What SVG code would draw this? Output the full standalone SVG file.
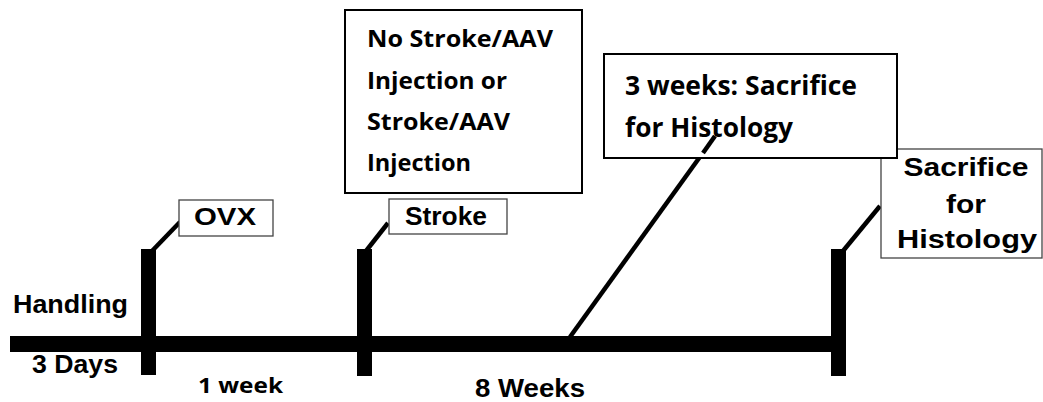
<svg xmlns="http://www.w3.org/2000/svg" width="1043" height="402" viewBox="0 0 1043 402">
<style>
.ar{font-family:"Liberation Sans",Arial,sans-serif;font-weight:700;fill:#000}
.ca{font-family:"Open Sans","Liberation Sans",sans-serif;font-weight:700;fill:#000}
.thin{fill:#fff;stroke:#444;stroke-width:1.3}
.thick{fill:#fff;stroke:#000;stroke-width:2}
.bar{fill:#000}
.lead{stroke:#000;stroke-width:4.5;stroke-linecap:butt;fill:none}
</style>
<rect width="1043" height="402" fill="#fff"/>
<g id="timeline">
<rect class="bar" x="10" y="336" width="836" height="16"/>
<rect class="bar" x="141" y="249" width="15" height="126"/>
<rect class="bar" x="357" y="249" width="15" height="127"/>
<rect class="bar" x="831" y="249" width="15" height="127"/>
</g>
<g id="connectors">
<line class="lead" x1="152" y1="251" x2="180" y2="222"/>
<line class="lead" x1="366" y1="251" x2="388" y2="223"/>
<line class="lead" x1="843" y1="251" x2="880" y2="206"/>
<line class="lead" x1="570" y1="337" x2="715" y2="136"/>
</g>
<g id="labels">
<text class="ar" x="13" y="313" font-size="26" textLength="115" lengthAdjust="spacingAndGlyphs">Handling</text>
<text class="ar" x="32" y="373" font-size="26" textLength="86" lengthAdjust="spacingAndGlyphs">3 Days</text>
<text class="ca" x="198" y="393" font-size="22" textLength="85" lengthAdjust="spacingAndGlyphs">1 week</text>
<text class="ar" x="475" y="397" font-size="26" textLength="110" lengthAdjust="spacingAndGlyphs">8 Weeks</text>
</g>
<g id="ovx">
<rect class="thin" x="179" y="200" width="94" height="36"/>
<text class="ar" x="194" y="225" font-size="24" textLength="62" lengthAdjust="spacingAndGlyphs">OVX</text>
</g>
<g id="stroke">
<rect class="thin" x="389" y="199" width="118" height="35"/>
<text class="ar" x="405" y="225" font-size="25" textLength="82" lengthAdjust="spacingAndGlyphs">Stroke</text>
</g>
<g id="group-box">
<rect class="thick" x="345" y="10" width="237" height="183"/>
<text class="ca" x="367" y="47" font-size="24" textLength="186" lengthAdjust="spacingAndGlyphs">No Stroke/AAV</text>
<text class="ca" x="367" y="89" font-size="24" textLength="140" lengthAdjust="spacingAndGlyphs">Injection or</text>
<text class="ca" x="367" y="130" font-size="24" textLength="143" lengthAdjust="spacingAndGlyphs">Stroke/AAV</text>
<text class="ca" x="367" y="171" font-size="24" textLength="104" lengthAdjust="spacingAndGlyphs">Injection</text>
</g>
<g id="sacrifice-final">
<rect class="thin" x="881" y="149" width="161" height="109"/>
<text class="ar" x="966" y="176" font-size="26" text-anchor="middle" textLength="125" lengthAdjust="spacingAndGlyphs">Sacrifice</text>
<text class="ar" x="966" y="213" font-size="26" text-anchor="middle" textLength="40" lengthAdjust="spacingAndGlyphs">for</text>
<text class="ar" x="967" y="248" font-size="26" text-anchor="middle" textLength="140" lengthAdjust="spacingAndGlyphs">Histology</text>
</g>
<g id="sacrifice-3wk">
<rect class="thick" x="604" y="54" width="293" height="104"/>
<text class="ca" x="625" y="95" font-size="26" textLength="232" lengthAdjust="spacingAndGlyphs">3 weeks: Sacrifice</text>
<text class="ca" x="625" y="137" font-size="26" textLength="168" lengthAdjust="spacingAndGlyphs">for Histology</text>
</g>
<line class="lead" x1="703" y1="153" x2="715" y2="136"/>
</svg>
